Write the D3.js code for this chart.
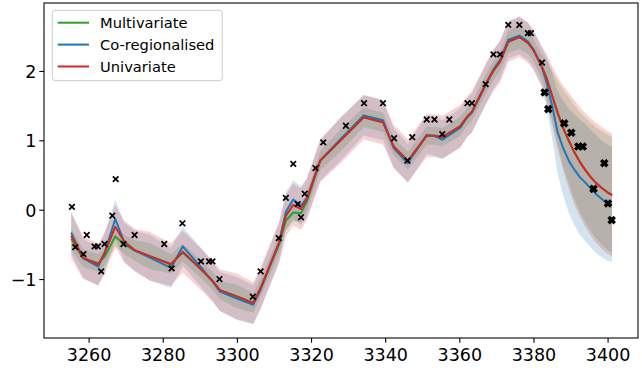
<!DOCTYPE html>
<html><head><meta charset="utf-8">
<script src="https://cdn.jsdelivr.net/npm/d3@7"></script>
<style>body{margin:0;background:#fff}svg{display:block}</style>
</head><body>
<svg id="c" width="642" height="368"></svg>
<script>
// ---------- data ----------
const gridX = [3255.3,3258.5,3262.6,3264.3,3267.2,3269.6,3272.5,3276.5,3282.2,3285.4,
  3290.3,3293.5,3295.4,3300.0,3304.4,3306.4,3311.4,3313.2,3315.2,3317.3,
  3318.9,3322.5,3328.0,3334.2,3339.4,3342.3,3346.1,3351.2,3353.4,3355.4,
  3360.2,3362.1,3363.4,3367.3,3369.2,3371.0,3373.2,3376.2,3378.6,3380.0,
  3382.2,3383.5,3385.0,3386.5,3388.0,3389.5,3391.0,3392.5,3394.0,3395.5,
  3397.0,3398.5,3400.0,3401.2];

const meanMulti = [-0.42,-0.70,-0.77,-0.68,-0.385,-0.50,-0.59,-0.67,-0.78,-0.62,
  -0.86,-1.03,-1.16,-1.25,-1.345,-1.13,-0.50,-0.16,-0.04,-0.05,
  0.12,0.71,1.00,1.333,1.26,0.91,0.705,1.065,1.065,1.045,
  1.20,1.34,1.41,1.83,2.005,2.135,2.42,2.49,2.40,2.30,
  2.07,1.90,1.65,1.40,1.18,1.00,0.83,0.69,0.57,0.465,
  0.38,0.31,0.25,0.21];
const sdMulti = [0.15,0.13,0.13,0.13,0.14,0.14,0.15,0.19,0.14,0.13,
  0.13,0.13,0.13,0.17,0.14,0.13,0.13,0.13,0.13,0.13,
  0.13,0.14,0.16,0.14,0.14,0.13,0.13,0.13,0.13,0.13,
  0.14,0.13,0.13,0.14,0.14,0.14,0.16,0.17,0.16,0.16,
  0.17,0.26,0.36,0.46,0.55,0.62,0.68,0.72,0.755,0.78,
  0.80,0.82,0.83,0.835];

const meanCoreg = [-0.33,-0.70,-0.82,-0.62,-0.135,-0.47,-0.59,-0.69,-0.84,-0.53,
  -0.83,-1.04,-1.18,-1.28,-1.37,-1.15,-0.47,-0.03,0.145,0.058,
  0.17,0.71,1.02,1.36,1.29,0.89,0.67,1.08,1.06,1.01,
  1.18,1.33,1.40,1.82,2.02,2.16,2.45,2.51,2.42,2.31,
  2.07,1.84,1.51,1.12,0.89,0.71,0.58,0.47,0.39,0.30,
  0.22,0.15,0.10,0.08];
const sdCoreg = [0.30,0.28,0.28,0.28,0.28,0.28,0.29,0.33,0.29,0.28,
  0.28,0.28,0.28,0.31,0.28,0.28,0.28,0.28,0.28,0.28,
  0.28,0.29,0.31,0.29,0.29,0.28,0.28,0.28,0.28,0.28,
  0.28,0.28,0.28,0.28,0.28,0.28,0.27,0.27,0.27,0.27,
  0.28,0.36,0.47,0.59,0.68,0.75,0.80,0.83,0.845,0.85,
  0.85,0.84,0.835,0.83];

const meanUni = [-0.375,-0.69,-0.79,-0.63,-0.245,-0.46,-0.585,-0.67,-0.79,-0.605,
  -0.86,-1.03,-1.16,-1.25,-1.345,-1.13,-0.47,-0.09,0.07,0.01,
  0.155,0.71,1.00,1.333,1.26,0.91,0.705,1.065,1.065,1.045,
  1.20,1.34,1.41,1.83,2.005,2.135,2.42,2.49,2.40,2.30,
  2.07,1.90,1.65,1.40,1.18,1.00,0.83,0.69,0.57,0.465,
  0.38,0.31,0.25,0.21];
const sdUni = [0.33,0.31,0.30,0.30,0.30,0.30,0.31,0.35,0.31,0.30,
  0.30,0.30,0.30,0.33,0.30,0.30,0.30,0.30,0.30,0.30,
  0.30,0.31,0.33,0.32,0.32,0.31,0.31,0.31,0.31,0.31,
  0.31,0.30,0.30,0.30,0.30,0.30,0.29,0.29,0.29,0.29,
  0.29,0.35,0.43,0.52,0.61,0.69,0.75,0.79,0.82,0.845,
  0.865,0.88,0.885,0.89];

const trainX = [3255.5,3256.4,3258.6,3259.5,3261.6,3262.5,3263.4,3264.3,3266.4,3267.3,
  3269.4,3272.4,3280.4,3282.4,3285.3,3290.3,3292.5,3293.4,3295.3,3304.3,
  3306.4,3311.3,3313.2,3315.2,3316.4,3317.3,3318.3,3321.2,3323.3,3329.4,
  3334.3,3339.4,3342.4,3346.0,3347.3,3351.2,3353.3,3355.4,3357.3,3362.2,
  3363.4,3367.1,3369.2,3371.0,3373.2,3376.2,3378.5,3379.3,3382.3];
const trainY = [0.04,-0.54,-0.64,-0.365,-0.53,-0.53,-0.89,-0.495,-0.087,0.44,
  -0.495,-0.365,-0.495,-0.846,-0.196,-0.745,-0.745,-0.745,-1.0,-1.255,
  -0.89,-0.41,0.17,0.66,0.08,-0.11,0.23,0.60,0.97,1.21,
  1.535,1.535,1.03,0.707,1.045,1.30,1.30,1.09,1.30,1.535,
  1.535,1.81,2.24,2.24,2.665,2.665,2.545,2.545,2.12];

const testX = [3383.0,3384.0,3388.3,3390.2,3392.1,3393.3,3396.2,3399.1,3400.1,3401.1];
const testY = [1.69,1.45,1.245,1.11,0.91,0.91,0.30,0.67,0.09,-0.15];

const xTicks = [3260,3280,3300,3320,3340,3360,3380,3400];
const yTicks = [-1,0,1,2];

const seriesNames = ["Multivariate","Co-regionalised","Univariate"];
const seriesColors = ["#2ca02c","#1f77b4","#d62728"];

// ---------- chart ----------
const L=44, R=638, T=3, B=338;
const svg = d3.select("#c");
const x = d3.scaleLinear().domain([3248.1,3408.2]).range([L+0.5,R]);
const y = d3.scaleLinear().domain([-1.85,2.98]).range([B,T]);

svg.append("defs").append("clipPath").attr("id","clip")
  .append("rect").attr("x",L).attr("y",T).attr("width",R-L).attr("height",B-T);

const plot = svg.append("g").attr("clip-path","url(#clip)");

const models = [
  {mean:meanMulti, sd:sdMulti},
  {mean:meanCoreg, sd:sdCoreg},
  {mean:meanUni, sd:sdUni}
];

const area = d3.area().x(d=>x(d.x)).y0(d=>y(d.lo)).y1(d=>y(d.hi));
const line = d3.line().x(d=>x(d.x)).y(d=>y(d.m));

models.forEach((m,k)=>{
  const data = gridX.map((g,i)=>({x:g, m:m.mean[i], lo:m.mean[i]-m.sd[i], hi:m.mean[i]+m.sd[i]}));
  plot.append("path").datum(data).attr("d",area)
    .attr("fill",seriesColors[k]).attr("fill-opacity",0.2).attr("stroke","none");
});
models.forEach((m,k)=>{
  const data = gridX.map((g,i)=>({x:g, m:m.mean[i]}));
  plot.append("path").datum(data).attr("d",line)
    .attr("fill","none").attr("stroke",seriesColors[k]).attr("stroke-width",2)
    .attr("stroke-linejoin","round");
});

function cross(s){ return `M${-s},${-s}L${s},${s}M${-s},${s}L${s},${-s}`; }
plot.append("g").selectAll("path").data(trainX.map((v,i)=>[v,trainY[i]])).join("path")
  .attr("transform",d=>`translate(${x(d[0])},${y(d[1])})`)
  .attr("d",cross(2.8)).attr("stroke","#000").attr("stroke-width",1.7).attr("fill","none");
plot.append("g").selectAll("path").data(testX.map((v,i)=>[v,testY[i]])).join("path")
  .attr("transform",d=>`translate(${x(d[0])},${y(d[1])})`)
  .attr("d",cross(3.1)).attr("stroke","#000").attr("stroke-width",3.4).attr("fill","none");

// axes
const font = "'DejaVu Sans', sans-serif";
const xAxis = svg.append("g").attr("transform",`translate(0,${B})`)
  .call(d3.axisBottom(x).tickValues(xTicks).tickSize(4.7).tickSizeOuter(0).tickFormat(d3.format("d")));
xAxis.select(".domain").remove();
xAxis.selectAll("line").attr("stroke","#000").attr("stroke-width",1.1);
xAxis.selectAll("text").attr("y",22.5).attr("dy",0)
  .attr("font-family",font).attr("font-size","17.5px").attr("fill","#000");

const yAxis = svg.append("g").attr("transform",`translate(${L},0)`)
  .call(d3.axisLeft(y).tickValues(yTicks).tickSize(4.7).tickSizeOuter(0).tickFormat(d3.format("d")));
yAxis.select(".domain").remove();
yAxis.selectAll("line").attr("stroke","#000").attr("stroke-width",1.1);
yAxis.selectAll("text").attr("x",-7.5).attr("dy","0.38em")
  .attr("font-family",font).attr("font-size","17.5px").attr("fill","#000");

svg.append("rect").attr("x",L).attr("y",T).attr("width",R-L).attr("height",B-T)
  .attr("fill","none").attr("stroke","#000").attr("stroke-width",1.07);

// legend
const lg = svg.append("g");
lg.append("rect").attr("x",52.3).attr("y",10.3).attr("width",170).attr("height",70.4)
  .attr("rx",3).attr("fill","#fff").attr("fill-opacity",0.8)
  .attr("stroke","#cccccc").attr("stroke-width",1);
seriesNames.forEach((n,i)=>{
  const yy = 22.7 + i*21.9;
  lg.append("line").attr("x1",57.7).attr("x2",89).attr("y1",yy).attr("y2",yy)
    .attr("stroke",seriesColors[i]).attr("stroke-width",2);
  lg.append("text").attr("x",100).attr("y",yy+5.6).text(n)
    .attr("font-family",font).attr("font-size","14.7px").attr("fill","#000");
});
</script>
</body></html>
